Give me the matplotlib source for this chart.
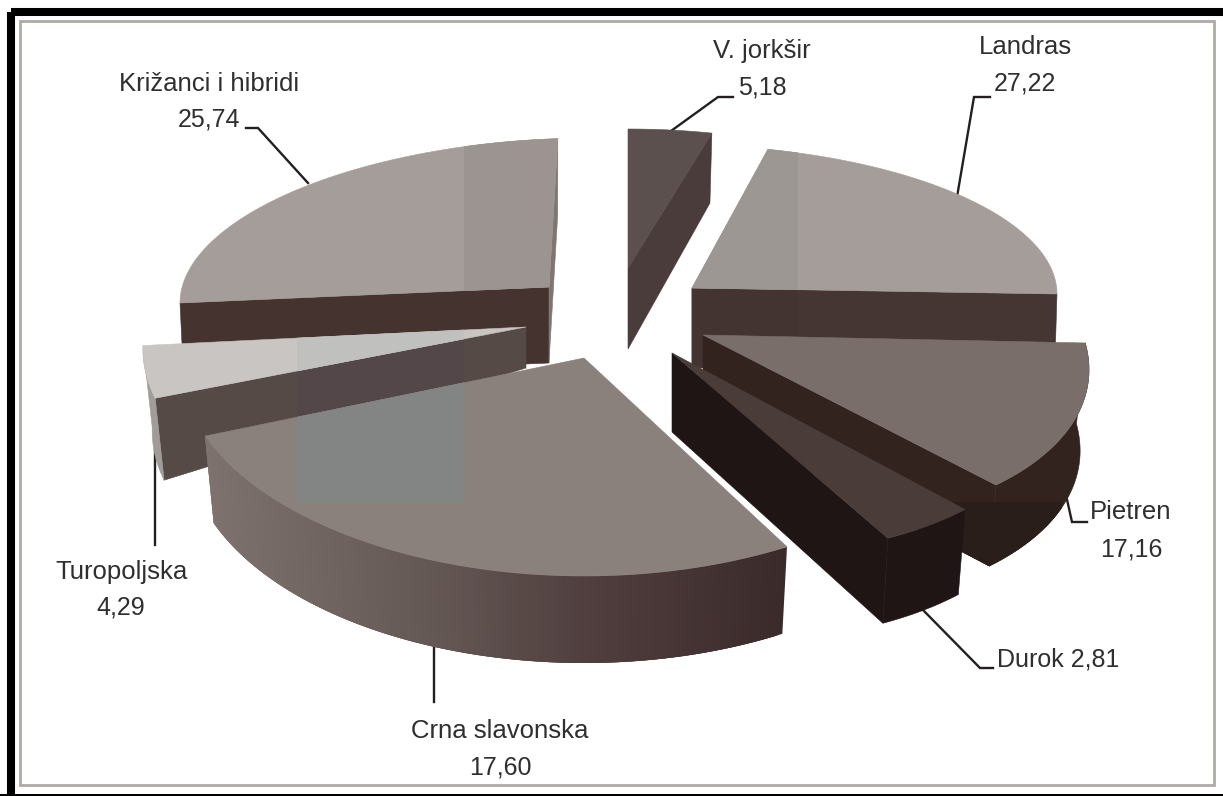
import logging
import numpy as np
import matplotlib
matplotlib.use("Agg")
import matplotlib.pyplot as plt
from matplotlib.patches import Polygon, Rectangle
from matplotlib.colors import to_rgb

logging.getLogger("matplotlib.font_manager").setLevel(logging.ERROR)

# ---------- data ----------
categories = ["V. jorkšir", "Landras", "Pietren", "Durok", "Crna slavonska", "Turopoljska", "Križanci i hibridi"]
values = [5.18, 27.22, 17.16, 2.81, 17.60, 4.29, 25.74]

# ---------- geometry / style per slice (projection of the tilted exploded pie) ----------
G = {
 "Križanci i hibridi": dict(a=(549,287), rx=369, ry=148, k=-.0434, t0=-180, st=.986, bx=.99, d=76, ad=76,
                            top="#a59d99", radial={"start":"#44332f","end":"#7f7671"}),
 "V. jorkšir": dict(a=(628,268), rx=347, ry=139, k=0, t0=-90, st=.75, bx=.977, d=70, ad=81,
                    top="#5b504d", radial={"end":"#493c3a"}),
 "Landras": dict(a=(692,288), rx=365, ry=143, k=.0164, t0=-78, st=.796, bx=.995, d=60, ad=80,
                 top="#a59d99", radial={"end":"#453533"}),
 "Turopoljska": dict(a=(526,327), rx=383, ry=200, k=-.057, t0=165.5, st=1.0, bx=.976, d=82, ad=41,
                     top="#c8c5c2", radial={"start":"#564a47"}, arc="#a09c9a"),
 "Crna slavonska": dict(a=(584,358), rx=406, ry=218, k=0, t0=60, st=1.5625, bx=.977, d=87, ad=87,
                        top="#8a807c", radial={}, grad=[(205,"#7d726e"),(430,"#645855"),(585,"#503f3e"),(787,"#3a2a29")]),
 "Pietren": dict(a=(703,335), rx=386, ry=190, k=.09, t0=-8, st=.787, bx=.977, d=81, ad=81,
                 top="#7a6e6a", radial={"end":"#32231f"}, arc="#32231f"),
 "Durok": dict(a=(672,353), rx=386, ry=200, k=.09, t0=40.6, st=1.522, bx=.977, d=85, ad=79,
               top="#4a3c39", radial={"end":"#1f1514"}, arc="#1f1514"),
}
ORDER = ["Križanci i hibridi","V. jorkšir","Landras","Turopoljska","Crna slavonska","Pietren","Durok"]

# shaded vertical bands that run through the original artwork: (slice, face, x0, x1, y0, y1, colour)
BANDS = [
 ("Križanci i hibridi","top",464,560,130,300,"#9c9490"),
 ("Landras","top",680,798,140,300,"#9c9793"),
 ("Landras","wall",680,798,280,380,"#433432"),
 ("Turopoljska","top",297,464,320,400,"#c0c0be"),
 ("Turopoljska","wall",297,464,320,480,"#54474a"),
 ("Crna slavonska","top",297,464,340,503,"#828583"),
 ("Pietren","wall",950,1062,502,580,"#2a1e1a"),
]

LEADERS = {
 "Križanci i hibridi":[(246,128),(258,128),(308,183)],
 "V. jorkšir":[(671,131),(718,97),(733,97)],
 "Landras":[(957,197),(974,97),(990,97)],
 "Pietren":[(1066,495),(1072,522),(1087,522)],
 "Durok":[(923,610),(980,668),(993,668)],
 "Crna slavonska":[(434,647),(434,702)],
 "Turopoljska":[(155,450),(155,545)],
}
LABELS = {
 "Križanci i hibridi":(209,84,120),
 "V. jorkšir":(762,51,87),
 "Landras":(1025,47,83),
 "Pietren":(1131,512,550),
 "Crna slavonska":(500,731,767),
 "Turopoljska":(121,572,607),
}
NAME_SIZE, NUM_SIZE = 18.5, 18.0
TEXT_COL = "#2f2e30"

plt.rcParams["font.family"] = ["Liberation Sans", "DejaVu Sans"]

fig = plt.figure(figsize=(12.23, 7.96), dpi=100, facecolor="white")
ax = fig.add_axes([0, 0, 1, 1])
ax.set_xlim(0, 1223); ax.set_ylim(796, 0); ax.axis("off")

def pt(g, t, bottom=False):
    t = np.radians(t)
    dx = g["rx"] * np.cos(t)
    y = g["a"][1] + g["ry"] * np.sin(t) + g["k"] * dx
    if bottom:
        return np.column_stack([g["a"][0] + g["bx"] * dx, y + g["d"]])
    return np.column_stack([g["a"][0] + dx, y])

def poly(xy, color, z, name=None, face=None, lw=.4):
    ax.add_patch(Polygon(xy, closed=True, fc=color, ec=color, lw=lw, zorder=z))
    for b in BANDS:
        if b[0] == name and b[1] == face:
            p = Polygon(xy, closed=True, fc=b[6], ec=b[6], lw=lw, zorder=z)
            ax.add_patch(p)
            p.set_clip_path(Rectangle((b[2], b[4]), b[3]-b[2], b[5]-b[4], transform=ax.transData))

# frame
ax.add_patch(Rectangle((11, 12), 1300, 900, fc="none", ec="black", lw=5.8, zorder=1))
ax.add_patch(Rectangle((0, 794), 1223, 3, fc="black", ec="none", zorder=1))
ax.add_patch(Rectangle((20, 21), 1194, 764, fc="white", ec="#aeaaa6", lw=2.0, zorder=1))

# leaders below the pie
for name, pts in LEADERS.items():
    xs, ys = zip(*pts)
    ax.plot(xs, ys, color="#231f20", lw=1.7, solid_joinstyle="miter", zorder=2)

share = dict(zip(categories, values))
z = 3
for name in ORDER:
    g = G[name]
    sweep = share[name] * 3.6 * g["st"]
    t = np.linspace(g["t0"], g["t0"] + sweep, 160)
    top = pt(g, t); bot = pt(g, t, True)
    a = np.array(g["a"], float); ab = a + [0, g["ad"]]
    # radial walls
    for side, col in g["radial"].items():
        i = 0 if side == "start" else -1
        poly([a, top[i], bot[i], ab], col, z, name, "wall")
    # curved wall
    if "arc" in g:
        poly(np.vstack([top, bot[::-1]]), g["arc"], z, name, "wall")
    if "grad" in g:
        gx = [s[0] for s in g["grad"]]
        gc = np.array([to_rgb(s[1]) for s in g["grad"]])
        base = np.vstack([top, bot[::-1]])
        for i in range(len(t) - 1):
            xm = (top[i, 0] + top[i+1, 0]) / 2
            c = tuple(np.interp(xm, gx, gc[:, j]) for j in range(3))
            # overlapping strips hide antialiasing seams
            p = Polygon([top[i], top[min(i+3, len(t)-1)], bot[min(i+3, len(t)-1)], bot[i]],
                        closed=True, fc=c, ec="none", zorder=z, antialiased=True)
            ax.add_patch(p)
    # top face
    poly(np.vstack([a, top]), g["top"], z + .5, name, "top")
    z += 1

# labels
def lab(s):
    return f"{share[s]:.2f}".replace(".", ",")
for name, (x, y1, y2) in LABELS.items():
    ax.text(x, y1, name, ha="center", va="center", fontsize=NAME_SIZE, color=TEXT_COL, zorder=20)
    ax.text(x, y2, lab(name), ha="center", va="center", fontsize=NUM_SIZE, color=TEXT_COL, zorder=20)
ax.text(997, 660, f"Durok {lab('Durok')}", ha="left", va="center", fontsize=NUM_SIZE, color=TEXT_COL, zorder=20)

fig.savefig("out.png", dpi=100, facecolor="white")
